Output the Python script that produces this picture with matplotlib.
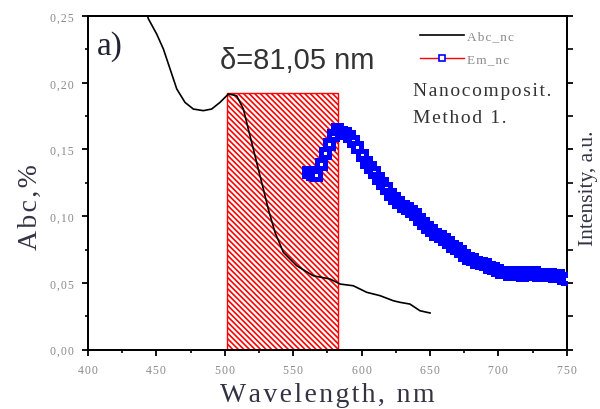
import numpy as np
import matplotlib
matplotlib.use("Agg")
import matplotlib.pyplot as plt
from matplotlib.ticker import MultipleLocator, FuncFormatter
from matplotlib.lines import Line2D
from matplotlib.patches import Rectangle

# Absorption spectrum of the nanocomposite
abs_wl = [440.0, 444.1, 450.2, 455.1, 460.0, 464.9, 470.9, 477.0, 484.3, 490.4,
          496.5, 501.4, 502.6, 508.7, 513.6, 517.2, 520.9, 524.5, 528.2, 531.8,
          536.7, 542.8, 552.6, 564.7, 576.9, 584.3, 594.0, 603.8, 613.5, 623.2,
          628.1, 635.4, 642.7, 650.1]
abs_val = [0.262, 0.248, 0.2365, 0.2253, 0.2103, 0.1953, 0.1853, 0.1803, 0.1791, 0.1803,
           0.1853, 0.1903, 0.1916, 0.1903, 0.1803, 0.1653, 0.1503, 0.1353, 0.1204, 0.1054,
           0.0880, 0.0730, 0.0629, 0.0554, 0.0530, 0.0492, 0.0479, 0.0430, 0.0405, 0.0367,
           0.0355, 0.0342, 0.0292, 0.0275]

# Emission spectrum (arbitrary units, plotted on the right axis)
em_wl = np.arange(561, 751, 3)
em_val = [0.133, 0.132, 0.131, 0.139, 0.147, 0.154, 0.161, 0.165, 0.163, 0.162,
          0.160, 0.156, 0.152, 0.146, 0.141, 0.137, 0.133, 0.129, 0.125, 0.121,
          0.117, 0.114, 0.111, 0.108, 0.106, 0.104, 0.102, 0.098, 0.095, 0.092,
          0.090, 0.087, 0.085, 0.083, 0.081, 0.078, 0.076, 0.074, 0.071, 0.069,
          0.068, 0.066, 0.065, 0.064, 0.062, 0.061, 0.060, 0.058, 0.058, 0.057,
          0.058, 0.057, 0.056, 0.058, 0.057, 0.058, 0.056, 0.057, 0.056, 0.057,
          0.055, 0.056, 0.054, 0.053]

# Stokes-shift band
band_start = 501.5
band_width = 81.05
band_height = 0.192

SERIF = ["Liberation Serif", "DejaVu Serif"]
HS = "\u200a"   # hair space used for the wide letter spacing
tick_gray = "#8a8a8a"
label_col = "#333344"


def spaced(s):
    return HS.join(s)


plt.rcParams["hatch.color"] = "red"
plt.rcParams["hatch.linewidth"] = 1.2

fig = plt.figure(figsize=(6.0, 4.1), dpi=100)
ax = fig.add_axes([0.1467, 0.1446, 0.7978, 0.8139])

ax.add_patch(Rectangle((band_start, 0), band_width, band_height,
                       facecolor="white", edgecolor="red", hatch="\\" * 6,
                       linewidth=1.0, zorder=1))

ax.plot(abs_wl, abs_val, color="black", lw=1.2, zorder=3)

ax.set_xlim(400, 750)
ax.set_ylim(0, 0.25)

ax.xaxis.set_major_locator(MultipleLocator(50))
ax.xaxis.set_minor_locator(MultipleLocator(25))
ax.yaxis.set_major_locator(MultipleLocator(0.05))
ax.yaxis.set_minor_locator(MultipleLocator(0.025))
ax.xaxis.set_major_formatter(FuncFormatter(lambda v, p: spaced("%d" % v)))
ax.yaxis.set_major_formatter(FuncFormatter(lambda v, p: spaced(("%.2f" % v).replace(".", ","))))

ax.tick_params(axis="both", which="major", direction="out", length=4, width=1.3,
               labelsize=8.5, labelcolor=tick_gray, pad=6)
ax.tick_params(axis="both", which="minor", direction="out", length=2.5, width=1.2)
ax.tick_params(top=False, which="both")
for lab in ax.get_xticklabels() + ax.get_yticklabels():
    lab.set_fontfamily(SERIF)
for s in ax.spines.values():
    s.set_linewidth(1.4)

fig.text(0.545, 0.035, spaced("Wavelength, nm"), fontfamily=SERIF, fontsize=20,
         color=label_col, ha="center", va="center")
fig.text(0.05, 0.495, spaced("Abc,%"), fontfamily=SERIF, fontsize=20,
         color=label_col, ha="center", va="center", rotation=90)

# Right axis for the emission intensity
ax2 = ax.twinx()
ax2.set_ylim(0, 0.25)
ax2.yaxis.set_major_locator(MultipleLocator(0.05))
ax2.yaxis.set_minor_locator(MultipleLocator(0.025))
ax2.tick_params(axis="y", which="major", direction="out", length=4, width=1.3,
                labelright=False)
ax2.tick_params(axis="y", which="minor", direction="out", length=4, width=1.2)
for s in ax2.spines.values():
    s.set_linewidth(1.4)
ax2.plot(em_wl, em_val, color="red", lw=1.0, marker="s", markersize=6,
         markerfacecolor="white", markeredgecolor="blue", markeredgewidth=3.6,
         zorder=4)
fig.text(0.98, 0.54, "Intensity, a.u.", fontfamily=SERIF, fontsize=15.5,
         color=label_col, ha="center", va="center", rotation=90)

# Annotations
fig.text(0.161, 0.925, "a)", fontfamily=SERIF, fontsize=24,
         color="#222233", va="top", ha="left")
ax.text(552.8, 0.217, "\u03b4=81,05 nm", fontfamily="Liberation Sans", fontsize=21,
        color="#333333", ha="center", va="center")
fig.text(0.688, 0.778, spaced("Nanocomposit."), fontfamily=SERIF,
         fontsize=14, color="#333333", ha="left", va="center")
fig.text(0.688, 0.712, spaced("Method 1."), fontfamily=SERIF,
         fontsize=14, color="#333333", ha="left", va="center")

handles = [Line2D([], [], color="black", lw=1.2),
           Line2D([], [], color="red", lw=1.0, marker="s", markersize=4,
                  markerfacecolor="white", markeredgecolor="blue", markeredgewidth=1.2)]
leg = fig.legend(handles, [spaced("Abc_nc"), spaced("Em_nc")], loc="upper left",
                 bbox_to_anchor=(0.692, 0.937), frameon=False, handlelength=3.3,
                 handletextpad=0.2, labelspacing=0.8, borderaxespad=0,
                 prop={"family": SERIF, "size": 9.5})
for t in leg.get_texts():
    t.set_color("#8a8a8a")

fig.savefig("out.png", dpi=100)
